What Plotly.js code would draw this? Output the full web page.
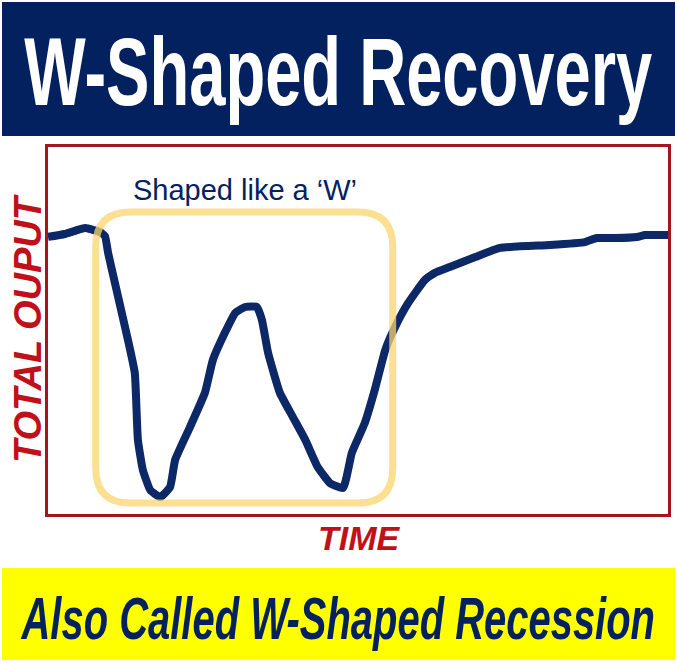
<!DOCTYPE html>
<html>
<head>
<meta charset="utf-8">
<script src="https://cdn.plot.ly/plotly-3.0.1.min.js"></script>
<style>
  html, body { margin: 0; padding: 0; background: #ffffff; }
  #chart { width: 677px; height: 664px; }
</style>
</head>
<body>
<div id="chart"></div>
<script>
// ---- data ----
const time = [0, 2.7, 6.0, 8.4, 9.2, 9.7, 10.8, 12.9, 14.0, 14.5, 15.3, 16.5, 18.1, 19.7, 20.5,
  22.9, 25.3, 26.6, 28.5, 30.2, 31.8, 33.7, 34.5, 35.5, 37.4, 39.5, 41.5, 43.5, 45.5, 47.6,
  49.0, 51.1, 52.7, 54.4, 56.0, 58.1, 60.8, 62.4, 64.8, 68.9, 72.9, 81.0, 86.6, 88.5, 91.5,
  95.0, 96.3, 100];
const totalOutput = [75.5, 76.3, 77.9, 76.8, 75.7, 71.1, 62.9, 47.4, 38.4, 20.2, 12.0, 6.5, 4.6, 7.4, 14.7,
  23.7, 33.0, 42.0, 49.3, 54.8, 56.4, 56.4, 52.9, 43.9, 33.0, 26.4, 20.2, 12.8, 8.4, 7.1,
  16.6, 24.8, 33.8, 44.7, 51.0, 57.5, 63.8, 65.7, 67.3, 70.0, 72.5, 73.3, 74.1, 75.2, 75.2,
  75.5, 76.0, 76.0];
const titleText = "W-Shaped Recovery";
const subtitleText = "Also Called W-Shaped Recession";
const noteText = "Shaped like a \u2018W\u2019";
const xTitle = "TIME";
const yTitle = "TOTAL OUPUT";
// highlighted "W" window (data units)
const wBox = {x0: 7.7, x1: 55.6, y0: 3.0, y1: 82.3, rx: 5.6, ry: 9.5};

const NAVY = '#04215f';
const LINE = '#0c2866';
const RED = '#c0101a';
const BORDER = '#a3161e';

function roundRectPath(b) {
  return 'M' + (b.x0 + b.rx) + ',' + b.y1 +
    ' L' + (b.x1 - b.rx) + ',' + b.y1 +
    ' Q' + b.x1 + ',' + b.y1 + ' ' + b.x1 + ',' + (b.y1 - b.ry) +
    ' L' + b.x1 + ',' + (b.y0 + b.ry) +
    ' Q' + b.x1 + ',' + b.y0 + ' ' + (b.x1 - b.rx) + ',' + b.y0 +
    ' L' + (b.x0 + b.rx) + ',' + b.y0 +
    ' Q' + b.x0 + ',' + b.y0 + ' ' + b.x0 + ',' + (b.y0 + b.ry) +
    ' L' + b.x0 + ',' + (b.y1 - b.ry) +
    ' Q' + b.x0 + ',' + b.y1 + ' ' + (b.x0 + b.rx) + ',' + b.y1 + ' Z';
}

const trace = {
  x: time, y: totalOutput, type: 'scatter', mode: 'lines',
  line: {color: LINE, width: 8, shape: 'spline', smoothing: 0.4},
  hoverinfo: 'skip', showlegend: false
};

const layout = {
  width: 677, height: 664,
  margin: {l: 48, r: 9, t: 147, b: 150, pad: 0},
  paper_bgcolor: '#ffffff', plot_bgcolor: '#ffffff',
  showlegend: false,
  xaxis: {range: [0, 100], showgrid: false, zeroline: false, showticklabels: false, ticks: '',
          showline: true, mirror: true, linecolor: BORDER, linewidth: 3, fixedrange: true},
  yaxis: {range: [0, 100], showgrid: false, zeroline: false, showticklabels: false, ticks: '',
          showline: true, mirror: true, linecolor: BORDER, linewidth: 3, fixedrange: true},
  shapes: [
    {type: 'rect', xref: 'paper', yref: 'paper', x0: -0.0742, x1: 1.0113, y0: 1.030, y1: 1.395,
     fillcolor: NAVY, line: {width: 0}, layer: 'above'},
    {type: 'rect', xref: 'paper', yref: 'paper', x0: -0.0742, x1: 1.0113, y0: -0.398, y1: -0.147,
     fillcolor: '#ffff00', line: {width: 0}, layer: 'above'},
    {type: 'path', xref: 'x', yref: 'y', path: roundRectPath(wBox),
     line: {color: 'rgba(250,214,110,0.75)', width: 7}, fillcolor: 'rgba(0,0,0,0)', layer: 'above'}
  ],
  annotations: [
    {text: titleText, xref: 'paper', yref: 'paper', x: 0.4677, y: 1.2057, xanchor: 'center', yanchor: 'middle',
     showarrow: false, font: {family: 'Liberation Sans, Arial, sans-serif', size: 96, color: '#ffffff', weight: 'bold'}},
    {text: subtitleText, xref: 'paper', yref: 'paper', x: 0.4677, y: -0.2847, xanchor: 'center', yanchor: 'middle',
     showarrow: false, font: {family: 'Liberation Sans, Arial, sans-serif', size: 60, color: NAVY, weight: 'bold', style: 'italic'}},
    {text: noteText, xref: 'paper', yref: 'paper', x: 0.3185, y: 0.8815, xanchor: 'center', yanchor: 'middle',
     showarrow: false, font: {family: 'Liberation Sans, Arial, sans-serif', size: 29, color: NAVY}},
    {text: xTitle, xref: 'paper', yref: 'paper', x: 0.503, y: -0.0654, xanchor: 'center', yanchor: 'middle',
     showarrow: false, font: {family: 'Liberation Sans, Arial, sans-serif', size: 34, color: RED, weight: 'bold', style: 'italic'}},
    {text: yTitle, xref: 'paper', yref: 'paper', x: -0.0323, y: 0.5068, xanchor: 'center', yanchor: 'middle',
     textangle: -90, showarrow: false,
     font: {family: 'Liberation Sans, Arial, sans-serif', size: 38, color: RED, weight: 'bold', style: 'italic'}}
  ]
};

Plotly.newPlot('chart', [trace], layout, {displayModeBar: false, staticPlot: true}).then(function () {
  // the reference lettering in the two banners is horizontally condensed
  const squeeze = {0: 0.678, 1: 0.666};
  Object.keys(squeeze).forEach(function (i) {
    const t = document.querySelector('.annotation[data-index="' + i + '"] text');
    if (t) {
      t.style.transformBox = 'fill-box';
      t.style.transformOrigin = 'center';
      t.style.transform = 'scaleX(' + squeeze[i] + ')';
    }
  });
});
</script>
</body>
</html>
